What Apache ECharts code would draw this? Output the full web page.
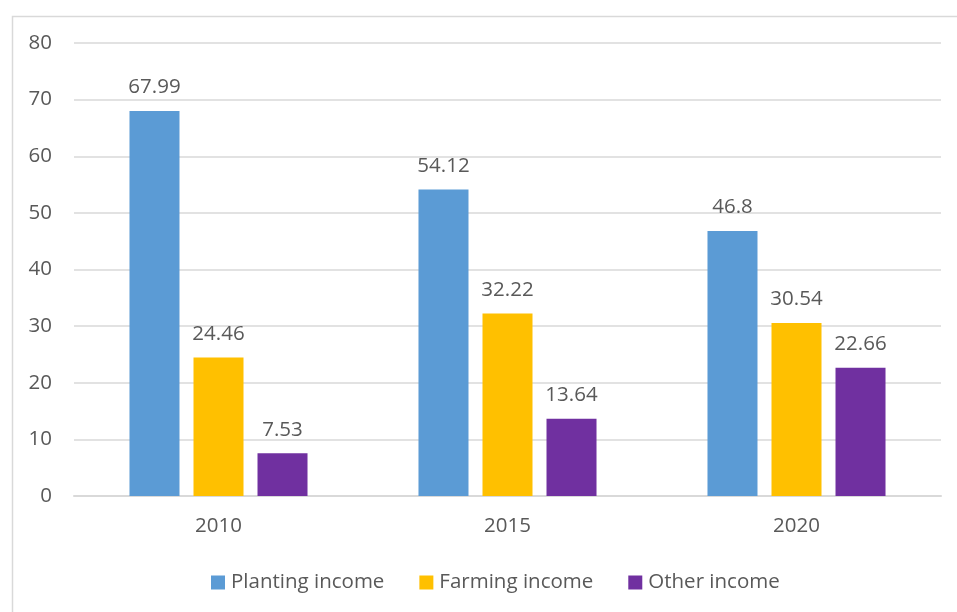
<!DOCTYPE html>
<html>
<head>
<meta charset="utf-8">
<style>
  html, body { margin: 0; padding: 0; background: #ffffff; }
  #chart { width: 957px; height: 612px; }
</style>
<script src="https://cdn.jsdelivr.net/npm/echarts@6/dist/echarts.min.js"></script>
</head>
<body>
<div id="chart"></div>
<script>
// Income composition by year (percent)
const years = ['2010', '2015', '2020'];
const plantingIncome = [67.99, 54.12, 46.8];
const farmingIncome = [24.46, 32.22, 30.54];
const otherIncome = [7.53, 13.64, 22.66];
const yTicks = [0, 10, 20, 30, 40, 50, 60, 70, 80];

const FONT = '"Open Sans", "Liberation Sans", sans-serif';
const TEXT = '#595959';

const labelStyle = {
  show: true,
  position: 'top',
  distance: 13,
  color: TEXT,
  fontFamily: FONT,
  fontSize: 20.5
};

function barSeries(name, data, color) {
  return {
    name: name,
    type: 'bar',
    data: data,
    itemStyle: { color: color },
    label: labelStyle,
    barGap: '28%',
    barCategoryGap: '38.4%',
    emphasis: { disabled: true }
  };
}

const chart = echarts.init(document.getElementById('chart'), null, { renderer: 'canvas' });
chart.setOption({
  animation: false,
  backgroundColor: '#ffffff',
  graphic: [{
    type: 'rect',
    left: 10,
    top: 14,
    shape: { width: 960, height: 620 },
    style: { fill: 'none', stroke: '#d9d9d9', lineWidth: 1.5 },
    silent: true,
    z: -1
  }],
  grid: { left: 74, right: 16, top: 43, bottom: 116, containLabel: false },
  legend: {
    bottom: 14,
    left: 206,
    itemWidth: 14,
    itemHeight: 14,
    itemGap: 35,
    icon: 'rect',
    textStyle: { color: TEXT, fontFamily: FONT, fontSize: 20.5, padding: [0, 0, 0, 1] },
    data: ['Planting income', 'Farming income', 'Other income']
  },
  xAxis: {
    type: 'category',
    data: years,
    axisLine: { show: true, lineStyle: { color: '#d9d9d9', width: 2 } },
    axisTick: { show: false },
    axisLabel: { color: TEXT, fontFamily: FONT, fontSize: 20.5, margin: 20 }
  },
  yAxis: {
    type: 'value',
    min: yTicks[0],
    max: yTicks[yTicks.length - 1],
    interval: 10,
    axisLine: { show: false },
    axisTick: { show: false },
    axisLabel: { color: TEXT, fontFamily: FONT, fontSize: 20.5, margin: 22 },
    splitLine: { lineStyle: { color: '#d9d9d9', width: 1.5 } }
  },
  series: [
    barSeries('Planting income', plantingIncome, '#5B9BD5'),
    barSeries('Farming income', farmingIncome, '#FFC000'),
    barSeries('Other income', otherIncome, '#7030A0')
  ]
});
</script>
</body>
</html>
